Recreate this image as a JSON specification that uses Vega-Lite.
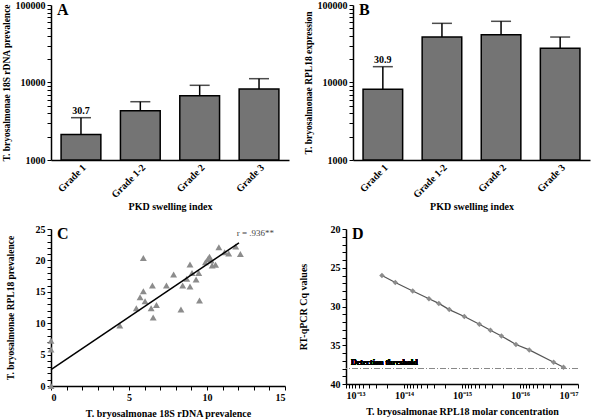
{
  "$schema": "https://vega.github.io/schema/vega-lite/v6.json",
  "padding": {"left": 1, "top": 0, "right": 6, "bottom": 2},
  "background": "white",
  "config": {
    "font": "Liberation Serif",
    "view": {"stroke": null},
    "axis": {
      "labelFont": "Liberation Serif", "titleFont": "Liberation Serif",
      "labelFontWeight": "bold", "labelFontSize": 10, "titleFontSize": 10, "titleFontWeight": "bold",
      "labelColor": "black", "titleColor": "black", "domainColor": "black", "tickColor": "black",
      "domainWidth": 1.5, "tickWidth": 1, "tickSize": 4, "grid": false, "labelOverlap": false
    },
    "title": {"font": "Liberation Serif", "fontSize": 16, "fontWeight": "bold", "anchor": "start", "color": "black", "frame": "group"}
  },
  "vconcat": [
    {
      "hconcat": [
        {
          "width": 238, "height": 155,
          "title": {"text": "A", "offset": -18, "dx": 6},
          "data": {"values": [
            {"grade": "Grade 1", "mean": 2140, "upper": 3515, "cq": "30.7"},
            {"grade": "Grade 1-2", "mean": 4325, "upper": 5650, "cq": ""},
            {"grade": "Grade 2", "mean": 6760, "upper": 9200, "cq": ""},
            {"grade": "Grade 3", "mean": 8240, "upper": 11200, "cq": ""}
          ]},
          "encoding": {
            "x": {"field": "grade", "type": "nominal", "sort": null,
                  "scale": {"paddingInner": 0.33, "paddingOuter": 0.17},
                  "axis": {"title": "PKD swelling index", "labelAngle": -45, "ticks": false, "labelPadding": 2, "titlePadding": 2}}
          },
          "layer": [
            {"mark": {"type": "bar", "fill": "#747474", "stroke": "black", "strokeWidth": 1.5},
             "encoding": {"y": {"field": "mean", "type": "quantitative",
               "scale": {"type": "log", "domain": [1000, 100000]},
               "axis": {"title": "T. bryosalmonae 18S rDNA prevalence", "titlePadding": 4, "titleFontSize": 9.5, "labelOverlap": false,
                 "values": [1000,2000,3000,4000,5000,6000,7000,8000,9000,10000,20000,30000,40000,50000,60000,70000,80000,90000,100000],
                 "labelExpr": "(datum.value == 1000 || datum.value == 10000 || datum.value == 100000) ? '' + datum.value : ''"}},
               "y2": {"datum": 1000}}},
            {"mark": {"type": "rule", "color": "black", "strokeWidth": 1.5},
             "encoding": {"y": {"field": "mean", "type": "quantitative"}, "y2": {"field": "upper"}}},
            {"mark": {"type": "tick", "color": "black", "thickness": 1.5, "size": 20},
             "encoding": {"y": {"field": "upper", "type": "quantitative"}}},
            {"mark": {"type": "text", "dy": -7, "fontWeight": "bold", "fontSize": 10, "font": "Liberation Serif"},
             "encoding": {"y": {"field": "upper", "type": "quantitative"}, "text": {"field": "cq"}}}
          ]
        },
        {
          "width": 237, "height": 155,
          "title": {"text": "B", "offset": -18, "dx": 6},
          "data": {"values": [
            {"grade": "Grade 1", "mean": 8160, "upper": 16000, "cq": "30.9"},
            {"grade": "Grade 1-2", "mean": 38600, "upper": 58000, "cq": ""},
            {"grade": "Grade 2", "mean": 41400, "upper": 61600, "cq": ""},
            {"grade": "Grade 3", "mean": 27600, "upper": 38600, "cq": ""}
          ]},
          "encoding": {
            "x": {"field": "grade", "type": "nominal", "sort": null,
                  "scale": {"paddingInner": 0.33, "paddingOuter": 0.17},
                  "axis": {"title": "PKD swelling index", "labelAngle": -45, "ticks": false, "labelPadding": 2, "titlePadding": 2}}
          },
          "layer": [
            {"mark": {"type": "bar", "fill": "#747474", "stroke": "black", "strokeWidth": 1.5},
             "encoding": {"y": {"field": "mean", "type": "quantitative",
               "scale": {"type": "log", "domain": [1000, 100000]},
               "axis": {"title": "T. bryosalmonae  RPL18 expression", "titlePadding": 4, "titleFontSize": 9.5, "labelOverlap": false,
                 "values": [1000,2000,3000,4000,5000,6000,7000,8000,9000,10000,20000,30000,40000,50000,60000,70000,80000,90000,100000],
                 "labelExpr": "(datum.value == 1000 || datum.value == 10000 || datum.value == 100000) ? '' + datum.value : ''"}},
               "y2": {"datum": 1000}}},
            {"mark": {"type": "rule", "color": "black", "strokeWidth": 1.5},
             "encoding": {"y": {"field": "mean", "type": "quantitative"}, "y2": {"field": "upper"}}},
            {"mark": {"type": "tick", "color": "black", "thickness": 1.5, "size": 20},
             "encoding": {"y": {"field": "upper", "type": "quantitative"}}},
            {"mark": {"type": "text", "dy": -7, "fontWeight": "bold", "fontSize": 10, "font": "Liberation Serif"},
             "encoding": {"y": {"field": "upper", "type": "quantitative"}, "text": {"field": "cq"}}}
          ]
        }
      ],
      "spacing": 14
    },
    {
      "hconcat": [
        {
          "width": 234, "height": 157,
          "title": {"text": "C", "offset": -18, "dx": 6},
          "layer": [
            {"data": {"values": [
              {"x": 0, "y": 7.2}, {"x": 0, "y": 5.8}, {"x": 0, "y": 0}, {"x": 4.41, "y": 9.65},
              {"x": 5.47, "y": 12.4}, {"x": 5.71, "y": 14.15}, {"x": 5.92, "y": 20.4}, {"x": 5.92, "y": 15.1},
              {"x": 6.03, "y": 13.5}, {"x": 6.42, "y": 12.4}, {"x": 6.5, "y": 16.0}, {"x": 6.55, "y": 10.9},
              {"x": 6.76, "y": 12.9}, {"x": 7.4, "y": 16.0}, {"x": 7.86, "y": 17.76}, {"x": 8.33, "y": 12.2},
              {"x": 8.44, "y": 16.0}, {"x": 8.7, "y": 17.06}, {"x": 8.91, "y": 19.35}, {"x": 8.91, "y": 15.85},
              {"x": 9.04, "y": 18.0}, {"x": 9.3, "y": 16.96}, {"x": 9.47, "y": 18.0}, {"x": 9.52, "y": 13.6},
              {"x": 9.9, "y": 19.7}, {"x": 10.05, "y": 20.2}, {"x": 10.16, "y": 20.6}, {"x": 10.27, "y": 19.97},
              {"x": 10.33, "y": 19.2}, {"x": 10.55, "y": 19.3}, {"x": 10.76, "y": 22.1}, {"x": 11.13, "y": 21.3},
              {"x": 11.39, "y": 21.1}, {"x": 11.84, "y": 22.2}, {"x": 12.14, "y": 21.0}
             ]},
             "mark": {"type": "point", "shape": "triangle-up", "filled": true, "color": "#8c8c8c", "size": 48, "opacity": 1},
             "encoding": {
               "x": {"field": "x", "type": "quantitative", "scale": {"domain": [0, 15], "nice": false},
                     "axis": {"title": "T. bryosalmonae 18S rDNA prevalence", "titlePadding": 6, "labelOverlap": false, "tickCount": 100,
                       "values": [0,1,2,3,4,5,6,7,8,9,10,11,12,13,14,15],
                       "labelExpr": "datum.value % 5 == 0 ? '' + datum.value : ''"}},
               "y": {"field": "y", "type": "quantitative", "scale": {"domain": [0, 25], "nice": false},
                     "axis": {"title": "T. bryosalmonae  RPL18 prevalence", "titlePadding": 20, "titleFontSize": 9.5, "labelOverlap": false, "tickCount": 100,
                       "values": [0,1,2,3,4,5,6,7,8,9,10,11,12,13,14,15,16,17,18,19,20,21,22,23,24,25],
                       "labelExpr": "datum.value % 5 == 0 ? '' + datum.value : ''"}}
             }},
            {"data": {"values": [{"x": 0, "y": 2.6}, {"x": 12.05, "y": 22.8}]},
             "mark": {"type": "line", "color": "black", "strokeWidth": 1.5},
             "encoding": {"x": {"field": "x", "type": "quantitative"}, "y": {"field": "y", "type": "quantitative"}}},
            {"data": {"values": [{"x": 11.9, "y": 24.3, "label": "r = .936**"}]},
             "mark": {"type": "text", "align": "left", "fontSize": 9, "color": "#444", "font": "Liberation Serif"},
             "encoding": {"x": {"field": "x", "type": "quantitative"}, "y": {"field": "y", "type": "quantitative"}, "text": {"field": "label"}}}
          ]
        },
        {
          "width": 232, "height": 155,
          "title": {"text": "D", "offset": -18, "dx": 6},
          "data": {"values": [
            {"conc": 2.399e-14, "cq": 26.0}, {"conc": 1.413e-14, "cq": 26.9}, {"conc": 7.079e-15, "cq": 28.0},
            {"conc": 3.715e-15, "cq": 29.0}, {"conc": 2.512e-15, "cq": 29.6}, {"conc": 1.660e-15, "cq": 30.4},
            {"conc": 9.120e-16, "cq": 31.3}, {"conc": 5.012e-16, "cq": 32.3}, {"conc": 3.236e-16, "cq": 33.07},
            {"conc": 2.089e-16, "cq": 33.8}, {"conc": 1.175e-16, "cq": 34.9}, {"conc": 6.918e-17, "cq": 35.6},
            {"conc": 2.630e-17, "cq": 37.2}, {"conc": 1.778e-17, "cq": 37.85}
          ]},
          "layer": [
            {"mark": {"type": "line", "color": "#555", "strokeWidth": 1.2},
             "encoding": {
               "x": {"field": "conc", "type": "quantitative",
                     "scale": {"type": "log", "domain": [1e-17, 1e-13], "reverse": true},
                     "axis": {"title": "T. bryosalmonae RPL18 molar concentration", "titlePadding": 6, "labelOverlap": false, "tickCount": 100,
                       "values": [1e-17,2e-17,3e-17,4e-17,5e-17,6e-17,7e-17,8e-17,9e-17,1e-16,2e-16,3e-16,4e-16,5e-16,6e-16,7e-16,8e-16,9e-16,1e-15,2e-15,3e-15,4e-15,5e-15,6e-15,7e-15,8e-15,9e-15,1e-14,2e-14,3e-14,4e-14,5e-14,6e-14,7e-14,8e-14,9e-14,1e-13],
                       "labelExpr": "abs(log(datum.value)/LN10 - round(log(datum.value)/LN10)) > 0.001 ? '' : round(log(datum.value)/LN10) == -13 ? '10⁻¹³' : round(log(datum.value)/LN10) == -14 ? '10⁻¹⁴' : round(log(datum.value)/LN10) == -15 ? '10⁻¹⁵' : round(log(datum.value)/LN10) == -16 ? '10⁻¹⁶' : '10⁻¹⁷'"}},
               "y": {"field": "cq", "type": "quantitative",
                     "scale": {"domain": [20, 40], "reverse": true, "nice": false, "zero": false},
                     "axis": {"title": "RT-qPCR Cq values", "titlePadding": 22, "labelOverlap": false, "tickCount": 100,
                       "values": [20,21,22,23,24,25,26,27,28,29,30,31,32,33,34,35,36,37,38,39,40],
                       "labelExpr": "datum.value % 5 == 0 ? '' + datum.value : ''"}}
             }},
            {"mark": {"type": "point", "shape": "diamond", "filled": true, "color": "#8c8c8c", "size": 30, "opacity": 1},
             "encoding": {"x": {"field": "conc", "type": "quantitative"}, "y": {"field": "cq", "type": "quantitative"}}},
            {"mark": {"type": "rule", "color": "#888", "strokeWidth": 1, "strokeDash": [6, 2, 1, 2]},
             "encoding": {"y": {"datum": 38, "type": "quantitative"}}},
            {"mark": {"type": "text", "align": "left", "dx": 5, "dy": -6, "fontSize": 8, "fontWeight": "bold", "font": "Liberation Serif"},
             "encoding": {"x": {"datum": 1e-13, "type": "quantitative"}, "y": {"datum": 38, "type": "quantitative"}, "text": {"value": "Detection threshold"}}}
          ]
        }
      ],
      "spacing": 12
    }
  ],
  "spacing": 12
}
